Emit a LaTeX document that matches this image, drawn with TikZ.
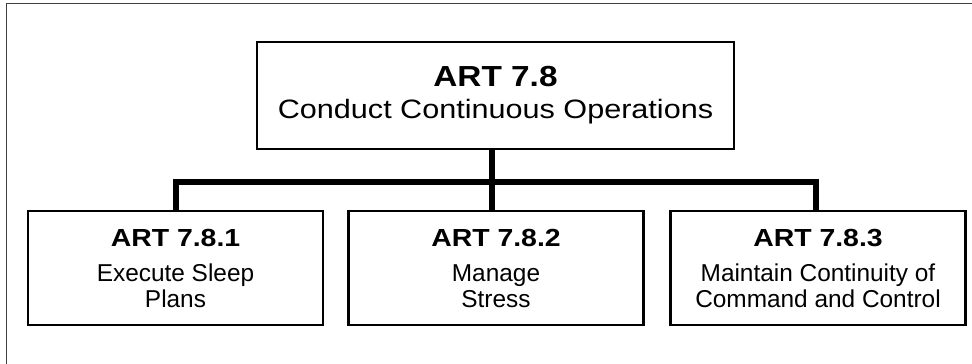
\documentclass[tikz,border=0pt]{standalone}
\usepackage{fontspec}
\setmainfont{Liberation Sans}
\newfontfamily\widefont[FakeStretch=1.15]{Liberation Sans}
\newcommand{\topTitle}{\widefont\bfseries\fontsize{29}{32}\selectfont}
\newcommand{\topSub}{\widefont\fontsize{26.6}{32}\selectfont}
\newcommand{\subTitle}{\widefont\bfseries\fontsize{24.7}{26}\selectfont}
\begin{document}
\begin{tikzpicture}[x=1pt,y=-1pt,
  box/.style={draw=black, line width=2.7pt, fill=white, inner sep=0pt, align=center, text=black},
  topbox/.style={box, minimum width=477pt, minimum height=107pt, font=\topSub},
  subbox/.style={box, minimum width=295pt, minimum height=114pt, font=\fontsize{24.4}{26}\selectfont},
  conn/.style={draw=black, line width=6pt, line join=miter},
  frame/.style={draw=black!75, line width=1.3pt}]
\useasboundingbox (0,0) rectangle (972,364);
\fill[white] (0,0) rectangle (972,364);
\draw[frame] (6.7,364) -- (6.7,3.3) -- (972,3.3);

\node[topbox] (top) at (495.5,95.5) {{\topTitle ART 7.8}\\{\topSub Conduct Continuous Operations}};

\node[subbox] (b1) at (175.5,268) {{\subTitle ART 7.8.1}\\[9pt]Execute Sleep\\Plans};
\node[subbox] (b2) at (496,268) {{\subTitle ART 7.8.2}\\[9pt]Manage\\Stress};
\node[subbox] (b3) at (818,268) {{\subTitle ART 7.8.3}\\[9pt]Maintain Continuity of\\Command and Control};

\coordinate (bar) at (0,181.5);
\draw[conn] ([xshift=-4pt]top.south) -- ([xshift=-4.5pt]b2.north);
\draw[conn] ([xshift=0pt]b1.north) -- (b1.north |- bar) -- ([xshift=-2.5pt]b3.north |- bar) -- ([xshift=-2.5pt]b3.north);
\end{tikzpicture}
\end{document}
